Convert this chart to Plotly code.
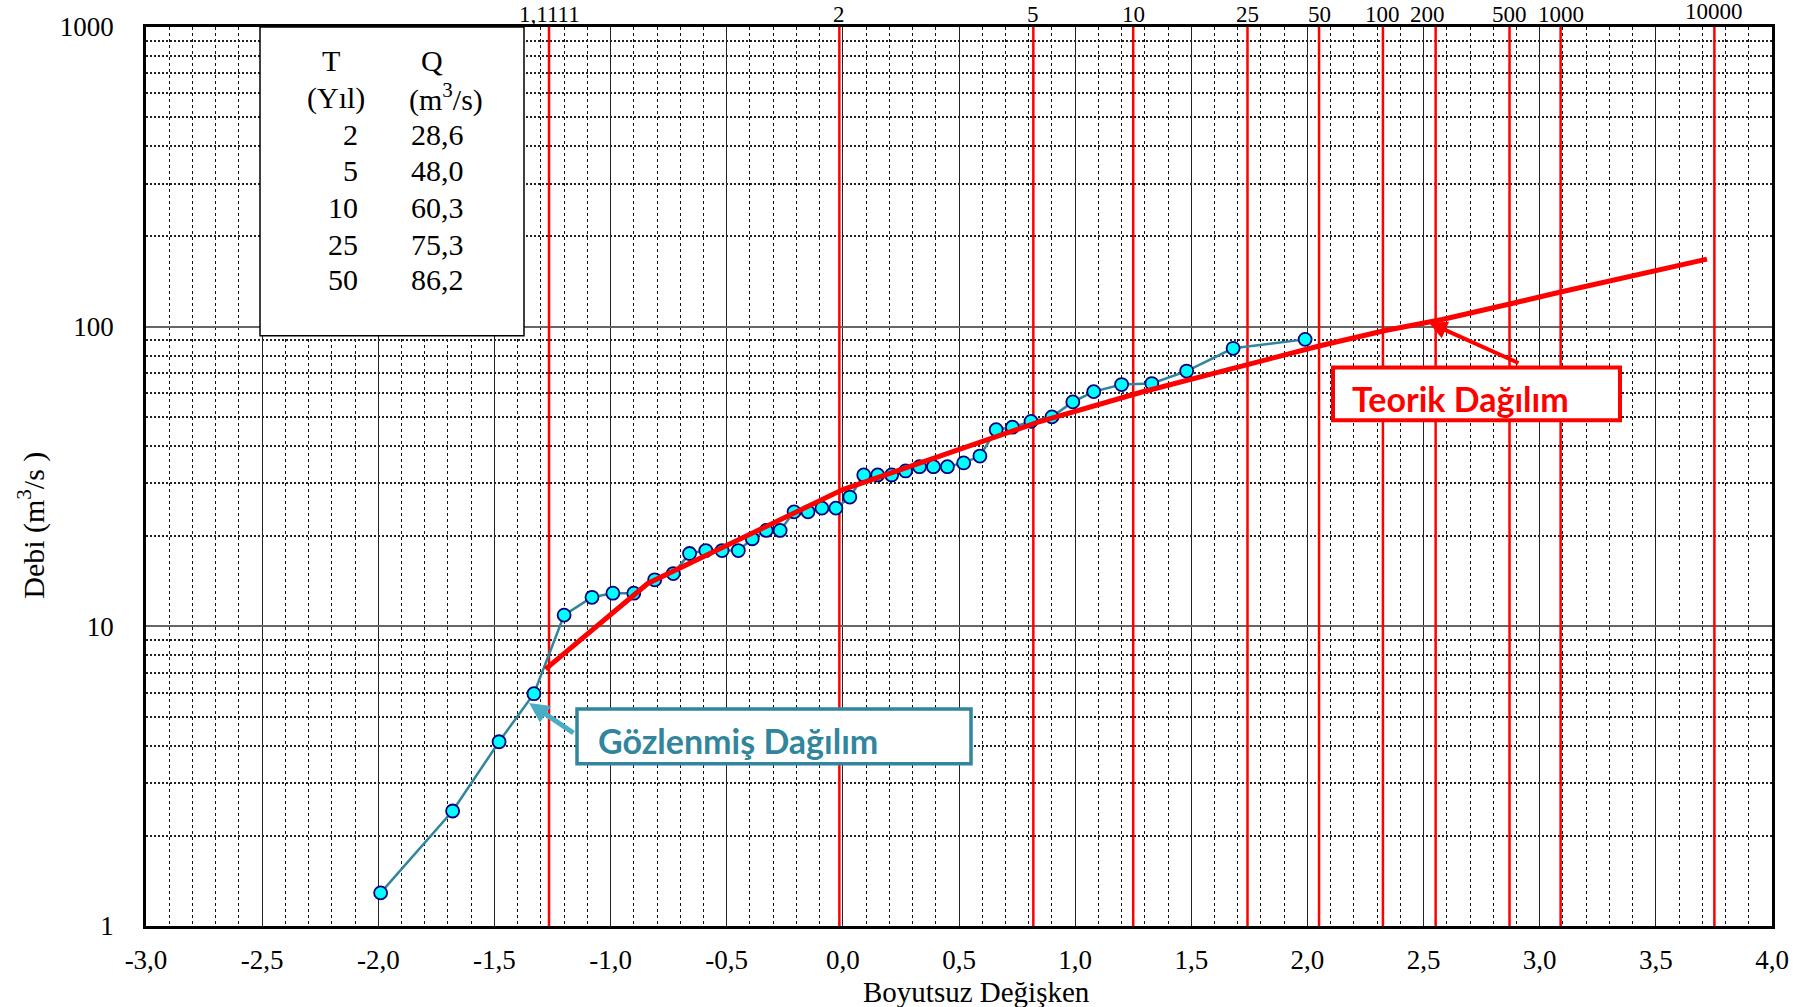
import numpy as np
import plotly.graph_objects as go

# ---------------- data ----------------
obs_K = [-1.99, -1.68, -1.48, -1.33, -1.20, -1.08, -0.99, -0.90, -0.81, -0.73,
         -0.66, -0.59, -0.52, -0.45, -0.39, -0.33, -0.27, -0.21, -0.15, -0.09,
         -0.03, 0.03, 0.09, 0.15, 0.21, 0.27, 0.33, 0.39, 0.45, 0.52,
         0.59, 0.66, 0.73, 0.81, 0.90, 0.99, 1.08, 1.20, 1.33, 1.48,
         1.68, 1.99]
obs_Q = [1.29, 2.42, 4.12, 5.96, 10.9, 12.5, 12.9, 12.9, 14.3, 15.0,
         17.5, 17.9, 17.9, 17.9, 19.6, 20.9, 20.9, 24.1, 24.1, 24.8,
         24.8, 27.0, 32.0, 32.0, 32.0, 33.0, 34.1, 34.1, 34.1, 35.1,
         37.0, 45.3, 46.2, 48.3, 50.0, 56.1, 60.7, 64.1, 64.6, 71.1,
         84.7, 90.7]

theory_K = [-1.28, -0.84, 0.0, 0.84, 1.28, 1.75, 2.05, 2.33, 2.58, 2.88, 3.09, 3.72]
theory_Q = [7.2, 13.9, 28.6, 48.0, 60.3, 75.3, 86.2, 96.9, 105.7, 119.5, 130.5, 168.0]

period_K = [-1.265, -0.015, 0.82, 1.25, 1.742, 2.05, 2.325, 2.552, 2.87, 3.09, 3.752]
period_labels = ["1,1111", "2", "5", "10", "25", "50", "100", "200", "500", "1000", "10000"]

table_T = ["2", "5", "10", "25", "50"]
table_Q = ["28,6", "48,0", "60,3", "75,3", "86,2"]

x_tick_vals = [-3.0, -2.5, -2.0, -1.5, -1.0, -0.5, 0.0, 0.5, 1.0, 1.5, 2.0, 2.5, 3.0, 3.5, 4.0]
x_tick_text = ["-3,0", "-2,5", "-2,0", "-1,5", "-1,0", "-0,5", "0,0", "0,5",
               "1,0", "1,5", "2,0", "2,5", "3,0", "3,5", "4,0"]
y_tick_vals = [1, 10, 100, 1000]
y_tick_text = ["1", "10", "100", "1000"]

# ---------------- styling helpers ----------------
SERIF = "Liberation Serif, Times New Roman, serif"
SANS = "Lato, Open Sans, sans-serif"
TEAL = "#31859C"

x_minor = [round(v, 1) for v in np.arange(-3.0, 4.001, 0.1)
           if abs(round(v * 2) - v * 2) > 1e-6]
y_minor = [m * d for d in (1, 10, 100) for m in range(2, 10)]

fig = go.Figure()

# red vertical return-period lines
vx, vy = [], []
for k in period_K:
    vx += [k, k, None]
    vy += [1, 1000, None]
fig.add_trace(go.Scatter(x=vx, y=vy, mode="lines",
                         line=dict(color="#FF0000", width=2.5),
                         hoverinfo="skip", showlegend=False))

# observed distribution
fig.add_trace(go.Scatter(x=obs_K, y=obs_Q, mode="lines+markers",
                         line=dict(color=TEAL, width=2.5),
                         marker=dict(size=13, color="#00FFFF",
                                     line=dict(color="#000080", width=1.8)),
                         showlegend=False))

# theoretical distribution
fig.add_trace(go.Scatter(x=theory_K, y=theory_Q, mode="lines",
                         line=dict(color="#FF0000", width=5),
                         showlegend=False))

annotations = []
# top return-period labels
for k, lab in zip(period_K, period_labels):
    annotations.append(dict(x=k, y=1.0, xref="x", yref="paper", text=lab,
                            showarrow=False, yanchor="bottom",
                            yshift=1 if lab == "10000" else -2,
                            xshift=-8 if lab == "200" else 0,
                            font=dict(family=SERIF, size=23, color="black")))

# table
def px_x(v):
    return (v - 146) / 1626.0

def px_y(v):
    return (926 - v) / 903.0

TF = dict(family=SERIF, size=30, color="black")
annotations += [
    dict(x=px_x(331), y=px_y(57), xref="paper", yref="paper", text="T",
         showarrow=False, xanchor="center", yanchor="middle", font=TF),
    dict(x=px_x(432), y=px_y(57), xref="paper", yref="paper", text="Q",
         showarrow=False, xanchor="center", yanchor="middle", font=TF),
    dict(x=px_x(336), y=px_y(94), xref="paper", yref="paper", text="(Yıl)",
         showarrow=False, xanchor="center", yanchor="middle", font=TF),
    dict(x=px_x(446), y=px_y(94), xref="paper", yref="paper",
         text="(m<sup>3</sup>/s)", showarrow=False, xanchor="center",
         yanchor="middle", font=TF),
]
row_y = [131, 167, 204, 241, 277]
for t, q, ry in zip(table_T, table_Q, row_y):
    annotations.append(dict(x=px_x(360), y=px_y(ry), xref="paper", yref="paper",
                            text=t, showarrow=False, xanchor="right",
                            yanchor="middle", font=TF))
    annotations.append(dict(x=px_x(409), y=px_y(ry), xref="paper", yref="paper",
                            text=q, showarrow=False, xanchor="left",
                            yanchor="middle", font=TF))

# callout texts
annotations.append(dict(x=px_x(1350), y=px_y(396), xref="paper", yref="paper",
                        text="<b>Teorik Dağılım</b>", showarrow=False,
                        xanchor="left", yanchor="middle",
                        font=dict(family=SANS, size=34, color="#FF0000")))
annotations.append(dict(x=px_x(596), y=px_y(740), xref="paper", yref="paper",
                        text="<b>Gözlenmiş Dağılım</b>", showarrow=False,
                        xanchor="left", yanchor="middle",
                        font=dict(family=SANS, size=34, color=TEAL)))
# arrows
annotations.append(dict(x=px_x(1429), y=px_y(320), xref="paper", yref="paper",
                        text="", showarrow=True, ax=91, ay=41,
                        arrowhead=2, arrowsize=0.9, arrowwidth=4,
                        arrowcolor="#FF0000"))
annotations.append(dict(x=px_x(529), y=px_y(702), xref="paper", yref="paper",
                        text="", showarrow=True, ax=46, ay=31,
                        arrowhead=2, arrowsize=0.8, arrowwidth=5,
                        arrowcolor="#4BACC6"))

# axis titles
annotations.append(dict(x=px_x(976), y=px_y(992), xref="paper", yref="paper",
                        text="Boyutsuz Değişken", showarrow=False,
                        xanchor="center", yanchor="middle",
                        font=dict(family=SERIF, size=29, color="black")))
annotations.append(dict(x=px_x(32), y=px_y(524), xref="paper", yref="paper",
                        text="Debi (m<sup>3</sup>/s )", showarrow=False,
                        textangle=-90, xanchor="center", yanchor="middle",
                        font=dict(family=SERIF, size=30, color="black")))

shapes = [
    # table box
    dict(type="rect", xref="paper", yref="paper",
         x0=px_x(260), x1=px_x(524), y0=px_y(333), y1=px_y(23),
         fillcolor="white", line=dict(color="black", width=1.5), layer="above"),
    # Teorik box
    dict(type="rect", xref="paper", yref="paper",
         x0=px_x(1333), x1=px_x(1620), y0=px_y(418), y1=px_y(365),
         fillcolor="white", line=dict(color="#FF0000", width=4), layer="above"),
    # Gözlenmiş box
    dict(type="rect", xref="paper", yref="paper",
         x0=px_x(577), x1=px_x(971), y0=px_y(763), y1=px_y(708),
         fillcolor="white", line=dict(color=TEAL, width=3.5), layer="above"),
]

fig.update_layout(
    width=1819, height=1007,
    margin=dict(l=146, r=47, t=23, b=81, pad=0),
    paper_bgcolor="white", plot_bgcolor="white",
    showlegend=False,
    annotations=annotations,
    shapes=shapes,
    xaxis=dict(range=[-3, 4], tickmode="array", tickvals=x_tick_vals,
               ticktext=x_tick_text, ticks="", ticklabelstandoff=8,
               tickfont=dict(family=SERIF, size=27, color="black"),
               showgrid=True, gridcolor="#222222", gridwidth=1,
               zeroline=False, showline=True, linecolor="black",
               linewidth=2.5, mirror=True,
               minor=dict(tickmode="array", tickvals=x_minor, showgrid=True,
                          gridcolor="#111111", gridwidth=1, griddash="dot",
                          ticks="")),
    yaxis=dict(type="log", range=[0, 3], tickmode="array",
               tickvals=y_tick_vals, ticktext=y_tick_text, ticks="",
               ticklabelstandoff=24,
               tickfont=dict(family=SERIF, size=27, color="black"),
               showgrid=True, gridcolor="#666666", gridwidth=1.5,
               zeroline=False, showline=True, linecolor="black",
               linewidth=2.5, mirror=True,
               minor=dict(tickmode="array", tickvals=y_minor, showgrid=True,
                          gridcolor="#222222", gridwidth=2, griddash="2px,2px",
                          ticks="")),
)

fig.write_html("out.html", config={"displayModeBar": False},
               post_script="document.body.style.margin='0';")
